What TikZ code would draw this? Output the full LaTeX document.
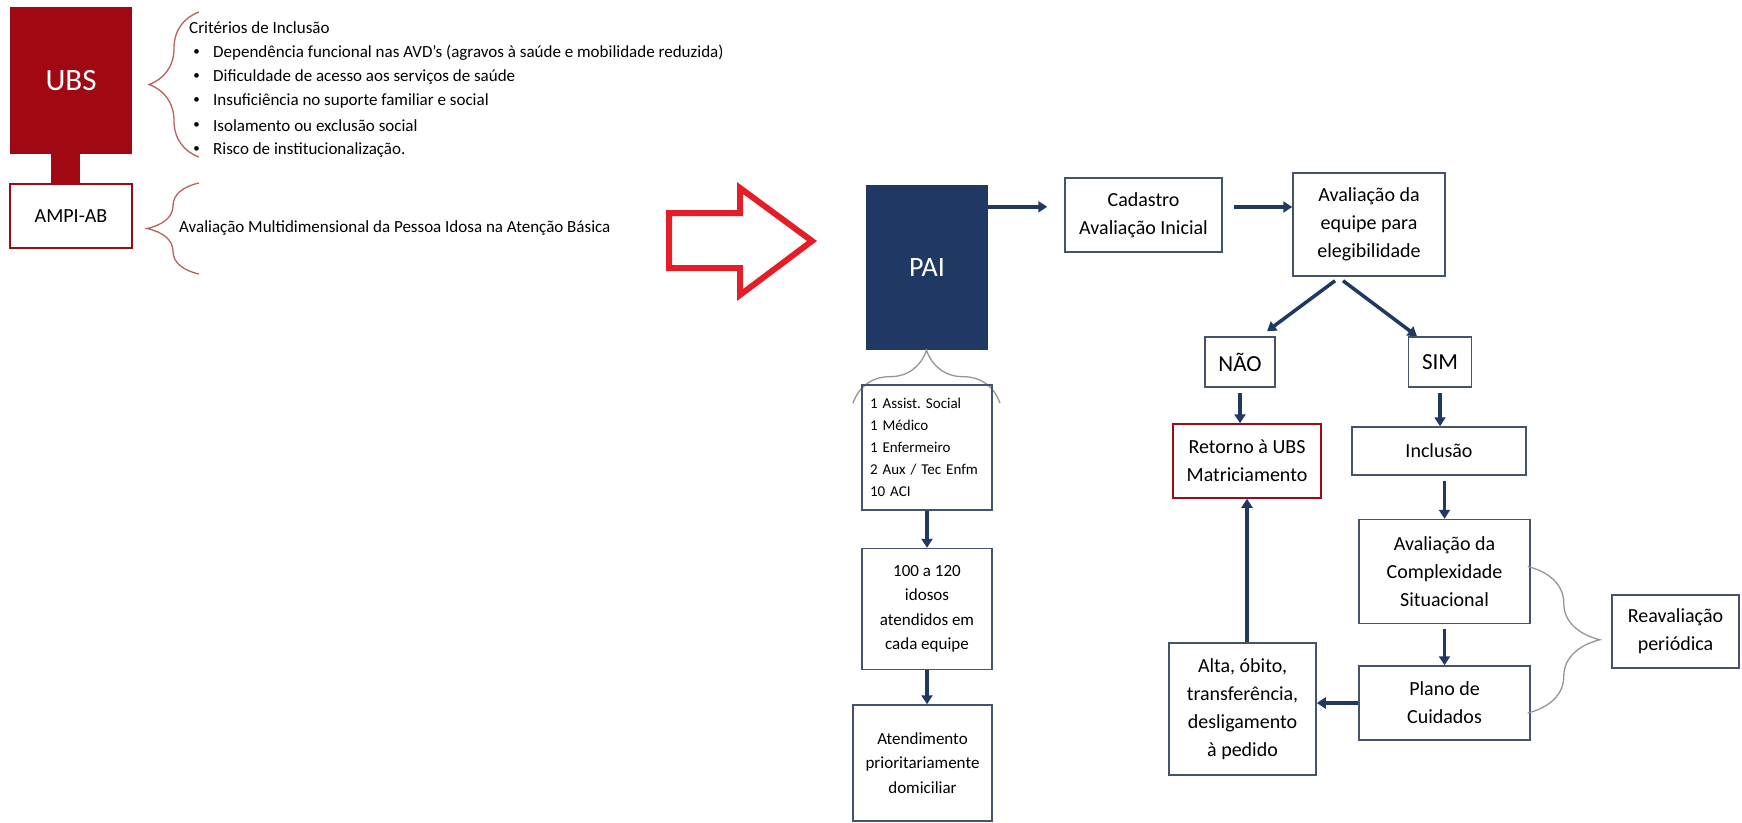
\documentclass[tikz,border=0pt]{standalone}
\usepackage{fontspec}
\setmainfont{Carlito}
\usetikzlibrary{arrows.meta, positioning, decorations.pathreplacing}
\definecolor{ubsred}{RGB}{160,8,20}
\definecolor{painavy}{RGB}{31,56,100}
\definecolor{boxgray}{RGB}{68,84,106}
\definecolor{bracered}{RGB}{190,95,95}
\definecolor{bracegray}{RGB}{150,150,150}
\definecolor{bigred}{RGB}{228,30,38}

\begin{document}
\begin{tikzpicture}[x=1pt, y=-1pt,
        flowbox/.style={rectangle, draw=boxgray, line width=1.5pt, align=center, inner sep=0pt, font=\fontsize{20}{28}\selectfont},
        smallbox/.style={flowbox, font=\fontsize{17}{24.5}\selectfont},
        choice/.style={flowbox, minimum height=50pt, font=\fontsize{23}{28}\selectfont},
        sidetext/.style={anchor=west, inner sep=0pt, font=\fontsize{17}{20}\selectfont},
        arrow/.style={-{Triangle[length=9pt, width=11pt]}, line width=3.5pt, painavy},
        bracket/.style={decorate, decoration={brace, amplitude=#1}, line width=1.3pt},
        node distance=37pt and 40pt
        ]
        \fill[white] (0,0) rectangle (1742,822);
        \useasboundingbox (0,0) rectangle (1742,822);

        % UBS and AMPI-AB
        \node (ubs) [rectangle, fill=ubsred, text=white, minimum width=122pt, minimum height=147pt, inner sep=0pt, font=\fontsize{31}{31}\selectfont] at (71,80.5) {UBS};
        \node (ampi) [rectangle, draw=ubsred, line width=1.5pt, minimum width=122pt, minimum height=64pt, inner sep=0pt, font=\fontsize{20}{20}\selectfont, below=29pt of ubs] {AMPI-AB};
        \fill[ubsred] ([xshift=-20pt]ubs.south) rectangle ([xshift=9pt]ampi.north);

        % Criteria
        \draw [bracket=50pt, bracered] (199,157) -- (199,12);
        \node (crit) [sidetext] at (189,28) {Critérios de Inclusão};
        \node (critA) [sidetext] at (213,53) {Dependência funcional nas AVD’s (agravos à saúde e mobilidade reduzida)};
        \node (critB) [sidetext] at (213,77) {Dificuldade de acesso aos serviços de saúde};
        \node (critC) [sidetext] at (213,101) {Insuficiência no suporte familiar e social};
        \node (critD) [sidetext] at (213,126) {Isolamento ou exclusão social};
        \node (critE) [sidetext] at (213,150) {Risco de institucionalização.};
        \foreach \b in {critA, critB, critC, critD, critE}
            \node [sidetext, anchor=east, font=\fontsize{13}{13}\selectfont] at ([xshift=-13pt]\b.west) {•};

        \draw [bracket=52pt, bracered] (199,274) -- (199,183);
        \node (ampitxt) [sidetext] at (179,228) {Avaliação Multidimensional da Pessoa Idosa na Atenção Básica};

        % Big arrow
        \draw [bigred, line width=6pt, line join=miter] (669,213) -- (740,213) -- (740,188) -- (812,241) -- (740,295) -- (740,268) -- (669,268) -- cycle;

        % PAI column
        \node (pai) [rectangle, fill=painavy, text=white, minimum width=122pt, minimum height=165pt, inner sep=0pt, font=\fontsize{28}{28}\selectfont] at (927,267.5) {PAI};
        \draw [bracket=53pt, bracegray] ([xshift=-74pt, yshift=-53pt]pai.south) -- ([xshift=73pt, yshift=-53pt]pai.south);
        \node (team) [flowbox, minimum width=130pt, minimum height=125pt, text width=114pt, align=left, font=\fontsize{15}{22}\selectfont] at (927,447.5) {1 Assist.\ Social\\1 Médico\\1 Enfermeiro\\2 Aux / Tec Enfm\\10 ACI};
        \node (idosos) [smallbox, minimum width=130pt, minimum height=121pt, below=37pt of team] {100 a 120\\idosos\\atendidos em\\cada equipe};
        \node (atend) [smallbox, minimum width=139pt, minimum height=116pt, below=34pt of idosos, xshift=-4.5pt] {Atendimento\\prioritariamente\\domiciliar};

        % Flow
        \node (cadastro) [flowbox, minimum width=157pt, minimum height=74pt] at (1143.5,215) {Cadastro\\Avaliação Inicial};
        \node (elegib) [flowbox, minimum width=152pt, minimum height=103pt] at (1369,224.5) {Avaliação da\\equipe para\\elegibilidade};
        \node (nao) [choice, minimum width=70pt] at (1240,362) {NÃO};
        \node (sim) [choice, minimum width=63pt] at (1440,362) {SIM};
        \node (retorno) [flowbox, draw=ubsred, minimum width=148pt, minimum height=74pt] at (1247,461) {Retorno à UBS\\Matriciamento};
        \node (inclusao) [flowbox, minimum width=174pt, minimum height=48pt] at (1439,451) {Inclusão};
        \node (complex) [flowbox, minimum width=171pt, minimum height=104pt, below=43pt of inclusao, xshift=5.5pt] {Avaliação da\\Complexidade\\Situacional};
        \node (plano) [flowbox, minimum width=171pt, minimum height=74pt, below=41pt of complex] {Plano de\\Cuidados};
        \node (alta) [flowbox, minimum width=147pt, minimum height=132pt] at (1242.5,709) {Alta, óbito,\\transferência,\\desligamento\\à pedido};
        \node (reaval) [flowbox, minimum width=127pt, minimum height=73pt] at (1675.5,631.5) {Reavaliação\\periódica};
        \draw [bracket=72pt, bracegray] ([xshift=-3pt, yshift=5pt]complex.east) -- ([xshift=-3pt, yshift=-10pt]plano.east);

        % Arrows
        \draw [arrow, shorten >=17pt] ([yshift=-22pt]pai.north east) -- ([yshift=-22pt]pai.north east -| cadastro.west);
        \draw [arrow, shorten <=11pt] ([yshift=8pt]cadastro.east) -- ([yshift=8pt]cadastro.east -| elegib.west);
        \draw [arrow] ([xshift=-34pt, yshift=-4pt]elegib.south) -- ([xshift=27pt, yshift=5pt]nao.north);
        \draw [arrow] ([xshift=-26pt, yshift=-4pt]elegib.south) -- ([xshift=-23pt]sim.north);
        \draw [arrow, shorten <=5pt] (nao.south) -- (nao.south |- retorno.north);
        \draw [arrow, shorten <=5pt] (sim.south) -- (sim.south |- inclusao.north);
        \draw [arrow, shorten <=5pt] (inclusao.south -| complex.north) -- (complex.north);
        \draw [arrow, shorten <=5pt] (complex.south) -- (plano.north);
        \draw [arrow] (plano.west) -- (plano.west -| alta.east);
        \draw [arrow] (retorno.south |- alta.north) -- (retorno.south);
        \draw [arrow] (team.south) -- (idosos.north);
        \draw [arrow] (idosos.south) -- (idosos.south |- atend.north);

    \end{tikzpicture}
\end{document}
